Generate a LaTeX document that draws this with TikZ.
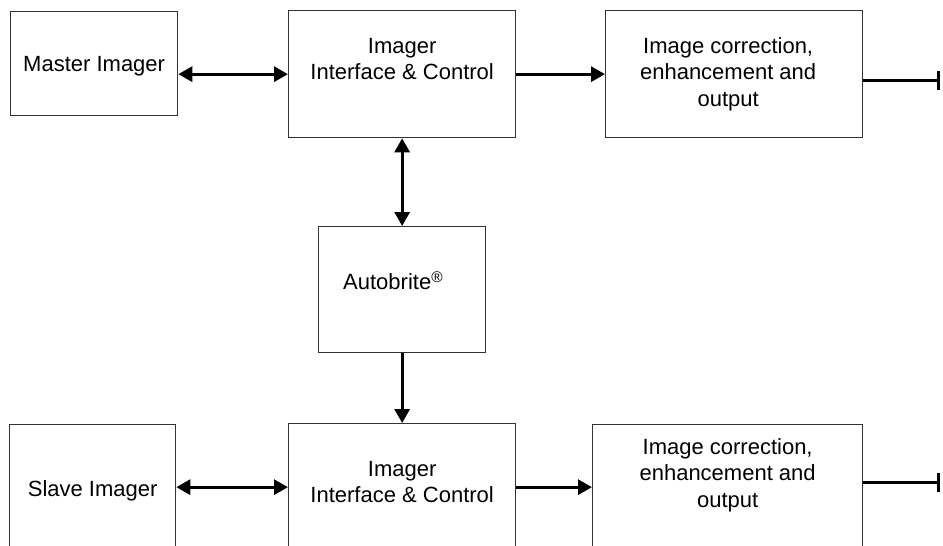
\documentclass[tikz,border=0pt]{standalone}
\usepackage{fontspec}
\setmainfont{Liberation Sans}
\usetikzlibrary{arrows.meta}

\tikzset{
  blk/.style={draw=black!80, line width=1.3pt, anchor=north west, inner sep=0pt},
  txt/.style={align=center, font=\fontsize{22}{26.5}\selectfont},
  conn/.style={line width=3pt, -{Triangle[length=14pt,width=15pt]}},
  dconn/.style={line width=3pt, {Triangle[length=14pt,width=15pt]}-{Triangle[length=14pt,width=15pt]}},
  outl/.style={line width=3pt, -{Bar[width=19pt,line width=2.6pt]}}
}

\begin{document}
\begin{tikzpicture}[x=1pt,y=-1pt]
\useasboundingbox (0,0) rectangle (943,546);

% master channel
\node[blk, minimum width=167pt, minimum height=104pt,
  label={[txt,yshift=-3pt]center:Master Imager}] (master) at (10,11) {};

\node[blk, minimum width=227pt, minimum height=127pt,
  label={[txt,yshift=15pt]center:Imager\\Interface \& Control}] (iface1) at (288,10) {};

\node[blk, minimum width=257pt, minimum height=127pt,
  label={[txt,xshift=-6pt]center:Image correction,\\enhancement and\\output}] (corr1) at (605,10) {};

% autobrite
\node[blk, minimum width=167pt, minimum height=126pt,
  label={[txt,xshift=-9pt,yshift=9pt]center:Autobrite\textsuperscript{\textregistered}}] (autob) at (318,226) {};

% slave channel
\node[blk, minimum width=166pt, minimum height=127pt,
  label={[txt,yshift=-3pt]center:Slave Imager}] (slave) at (9,424) {};

\node[blk, minimum width=227pt, minimum height=127pt,
  label={[txt,yshift=5pt]center:Imager\\Interface \& Control}] (iface2) at (288,423) {};

\node[blk, minimum width=270pt, minimum height=127pt,
  label={[txt,yshift=13pt]center:Image correction,\\enhancement and\\output}] (corr2) at (592,424) {};

\coordinate (out1) at (940,80);
\coordinate (out2) at (940,482);

\draw[dconn] (iface1.west -| master.east) -- (iface1.west);
\draw[conn] (iface1.east) -- (corr1.west);
\draw[outl] (corr1.east |- out1) -- (out1);

\draw[dconn] (iface1.south) -- (autob.north);
\draw[conn] (autob.south) -- (iface2.north);

\draw[dconn] (iface2.west -| slave.east) -- (iface2.west);
\draw[conn] (iface2.east) -- (iface2.east -| corr2.west);
\draw[outl] (corr2.east |- out2) -- (out2);

\end{tikzpicture}
\end{document}
